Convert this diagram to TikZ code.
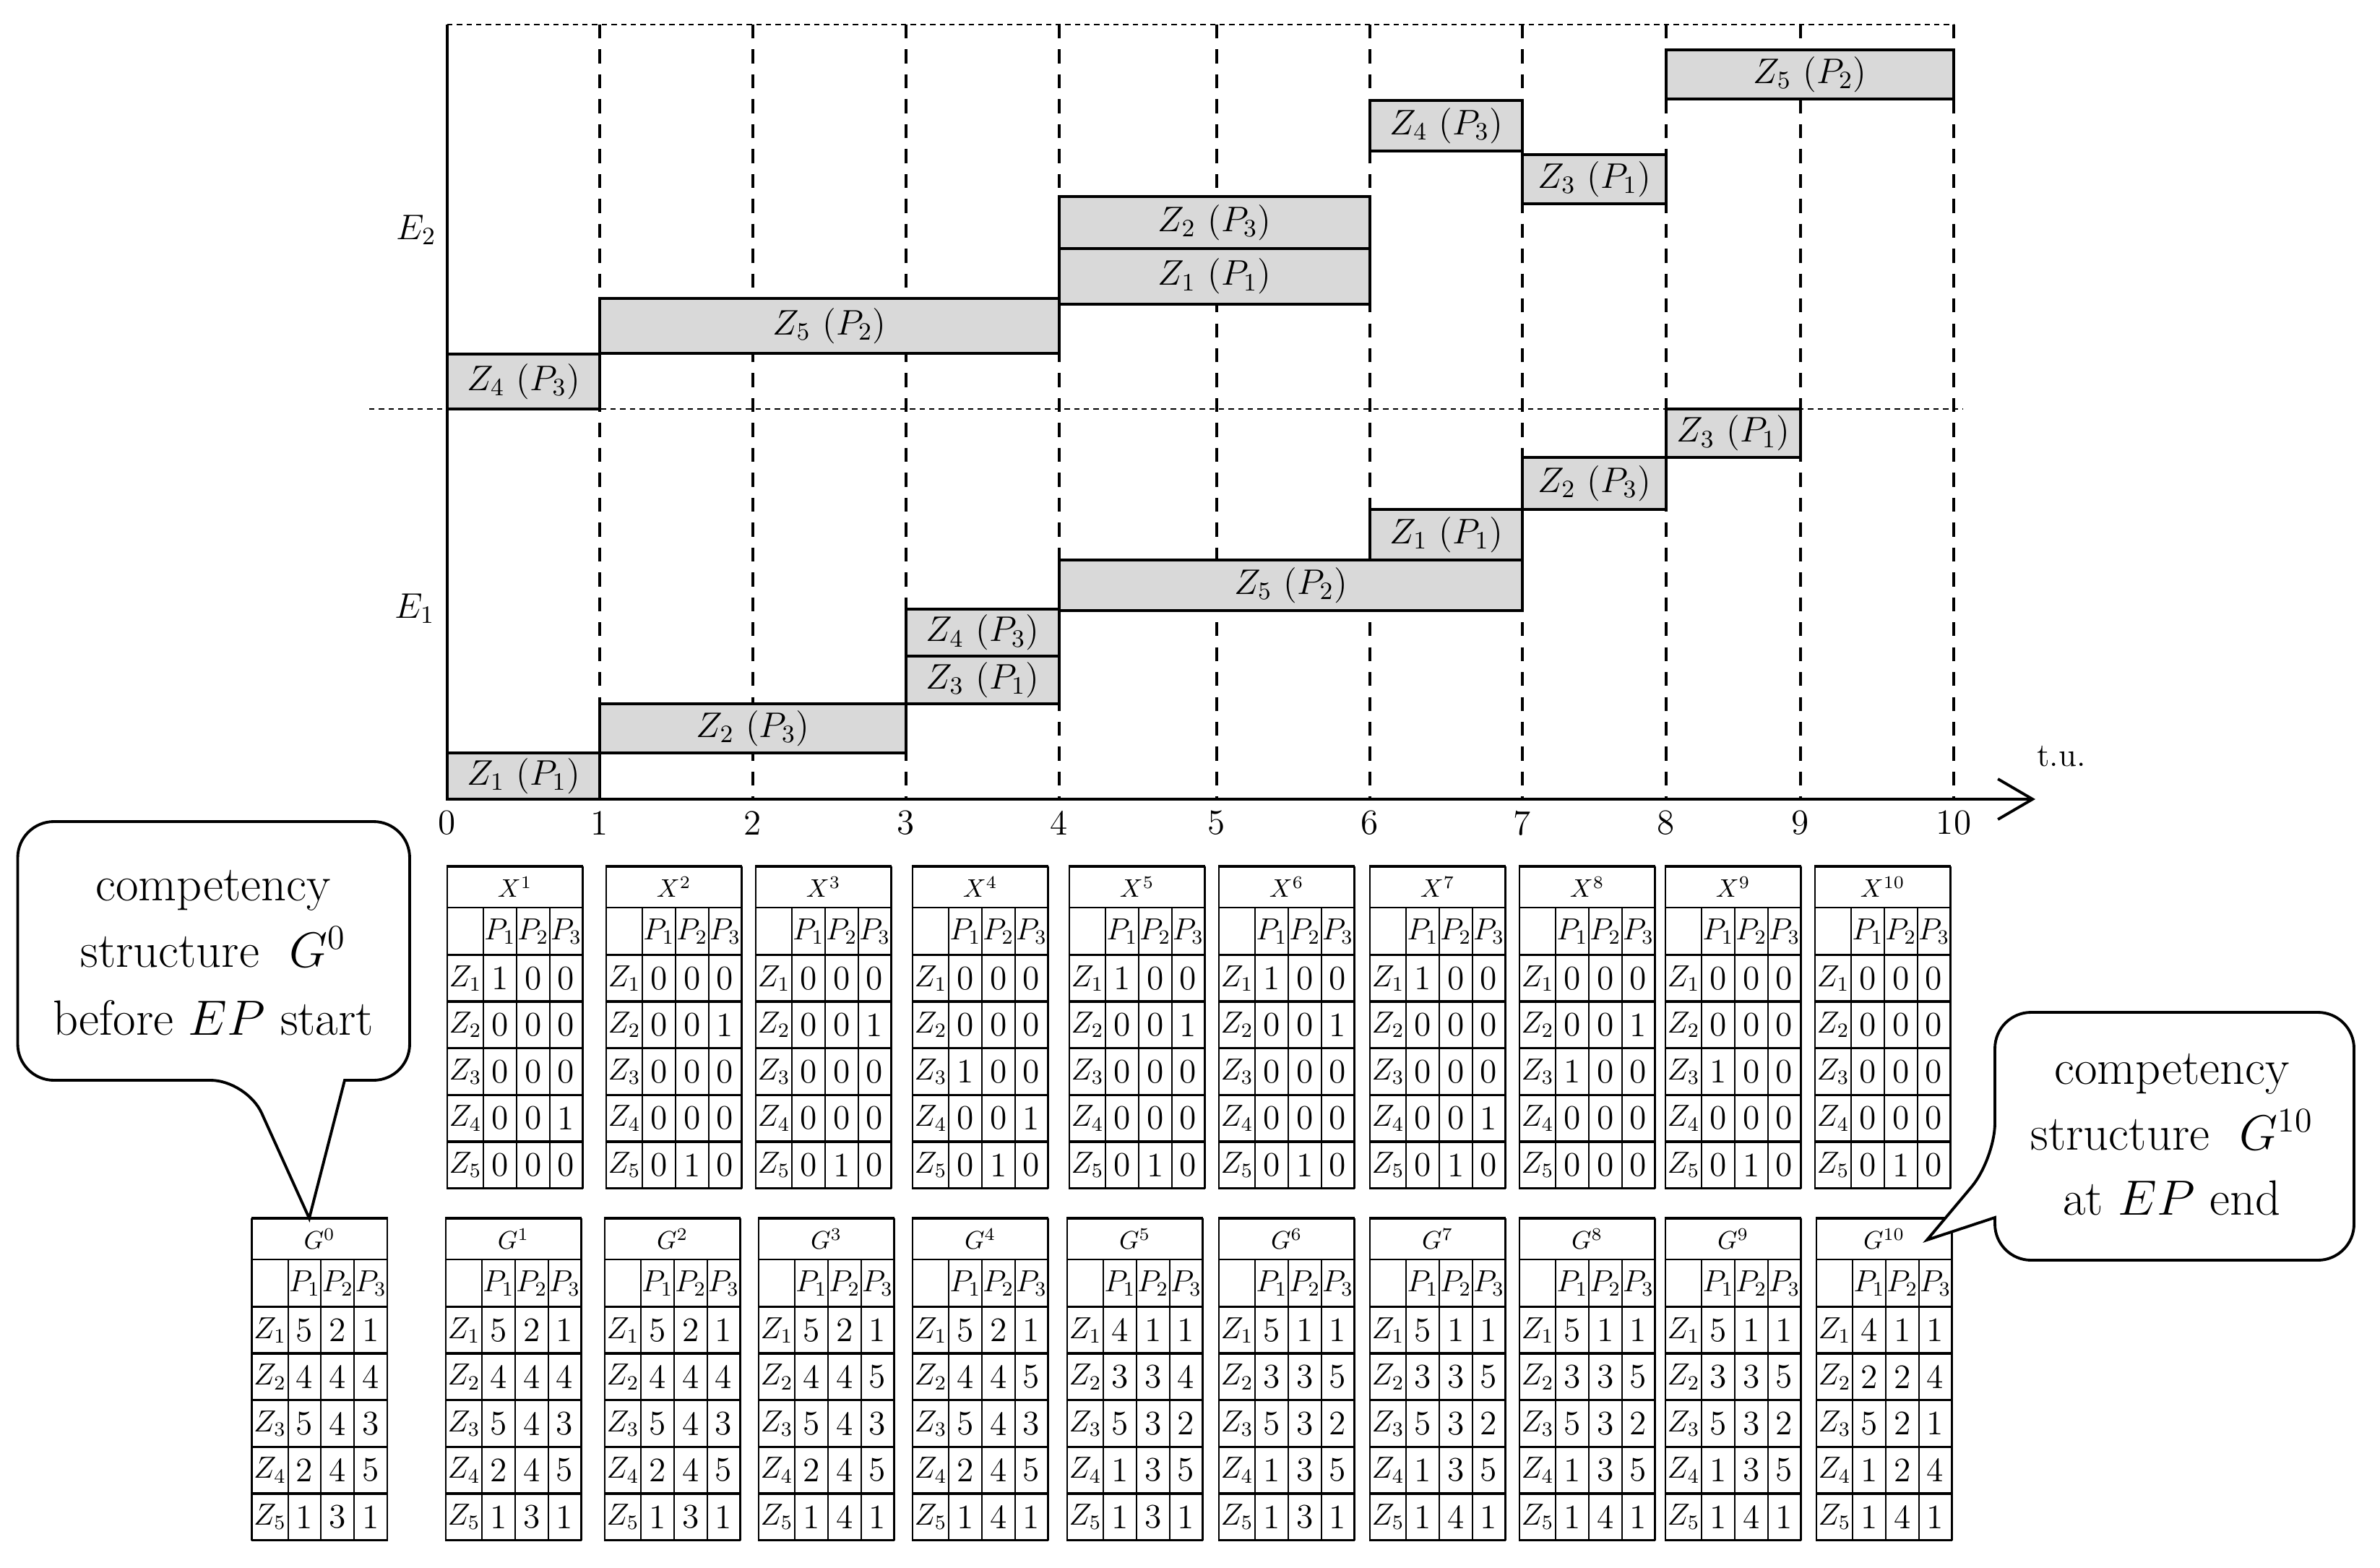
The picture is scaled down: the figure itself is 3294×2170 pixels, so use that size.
\RequirePackage{fix-cm}
\documentclass[tikz,border=0pt]{standalone}
\usetikzlibrary{arrows.meta,calc}
\definecolor{barfill}{RGB}{217,217,217}
\tikzset{
  bar/.style={draw=black,line width=1.1pt,fill=barfill},
  barlabel/.style={font=\fontsize{14}{16}\selectfont,inner sep=0pt},
  gridline/.style={line width=0.9pt,dash pattern=on 5.5pt off 4.3pt},
  dotline/.style={line width=0.5pt,dash pattern=on 2.1pt off 1.7pt},
  axisline/.style={line width=1pt},
  ticklabel/.style={font=\fontsize{14}{16}\selectfont,inner sep=0pt},
  tthick/.style={line width=1pt},
  tthin/.style={line width=0.6pt},
  ttitle/.style={font=\fontsize{10}{12}\selectfont,inner sep=0pt},
  thead/.style={font=\fontsize{12}{14}\selectfont,inner sep=0pt},
  tzlab/.style={font=\fontsize{12}{14}\selectfont,inner sep=0pt},
  tval/.style={font=\fontsize{13.5}{15}\selectfont,inner sep=0pt},
  callout/.style={line width=1.1pt,fill=white,line join=miter},
  callouttext/.style={font=\fontsize{19.5}{24}\selectfont,inner sep=0pt,anchor=base},
}
% bar: name, x0, x1, ytop, ybottom, label
\newcommand{\gbar}[6]{%
  \draw[bar] (#2,#4) rectangle (#3,#5);
  \node[barlabel] (#1) at ({(#2+#3)/2},{(#4+#5)/2}) {#6};}
% table: name, left, top, title, rows
\newcommand{\mtab}[5]{%
  \begin{scope}[shift={(#2,#3)}]
    \coordinate (#1-nw) at (0,0);
    \coordinate (#1-se) at (187.4,445.5);
    \draw[tthin] (0,57) -- (187.4,57);
    \foreach \yy in {122.5,187.1,251.7,316.3,380.9}
      \draw[tthick] (0,\yy) -- (187.4,\yy);
    \foreach \xx in {50,95.8,141.6}
      \draw[tthin] (\xx,57) -- (\xx,445.5);
    \draw[line width=0.75pt] (0,0) -- (0,445.5) (187.4,0) -- (187.4,445.5);
    \draw[tthick] (-1,0) -- (188.4,0) (-1,445.5) -- (188.4,445.5);
    \node[ttitle] (#1-t) at (93.7,28.5) {$#4$};
    \node[thead] (#1-p1) at (72.9,89.75) {$P_1$};
    \node[thead] (#1-p2) at (118.7,89.75) {$P_2$};
    \node[thead] (#1-p3) at (164.5,89.75) {$P_3$};
    \foreach \a/\b/\c [count=\i] in {#5} {
      \node[tzlab] (#1-z\i) at (25,{122.5+64.6*(\i-0.5)}) {$Z_{\i}$};
      \node[tval] (#1-a\i) at (72.9,{122.5+64.6*(\i-0.5)}) {\a};
      \node[tval] (#1-b\i) at (118.7,{122.5+64.6*(\i-0.5)}) {\b};
      \node[tval] (#1-c\i) at (164.5,{122.5+64.6*(\i-0.5)}) {\c};
    }
  \end{scope}}
\begin{document}
\begin{tikzpicture}[x=0.01cm,y=-0.01cm]
\path[use as bounding box] (0,0) rectangle (3294,2170);

% grid
\foreach \t in {830,1042,1254,1466,1684,1896,2107,2306,2492,2704}
  \draw[gridline] (\t,34) -- (\t,1106);
\draw[dotline] (619,34) -- (2704,34);
\draw[dotline] (511,566) -- (2716,566);

% E1 bars
\gbar{a1}{619}{830}{1042}{1106}{$Z_1\ (P_1)$}
\gbar{a2}{830}{1254}{974}{1042}{$Z_2\ (P_3)$}
\gbar{a3}{1254}{1466}{908}{974}{$Z_3\ (P_1)$}
\gbar{a4}{1254}{1466}{843}{908}{$Z_4\ (P_3)$}
\gbar{a5}{1466}{2107}{775}{845}{$Z_5\ (P_2)$}
\gbar{a6}{1896}{2107}{705}{775}{$Z_1\ (P_1)$}
\gbar{a7}{2107}{2306}{633}{705}{$Z_2\ (P_3)$}
\gbar{a8}{2306}{2492}{566}{633}{$Z_3\ (P_1)$}
% E2 bars
\gbar{b1}{619}{830}{490}{566}{$Z_4\ (P_3)$}
\gbar{b2}{830}{1466}{413}{489}{$Z_5\ (P_2)$}
\gbar{b3}{1466}{1896}{344}{421}{$Z_1\ (P_1)$}
\gbar{b4}{1466}{1896}{272}{344}{$Z_2\ (P_3)$}
\gbar{b5}{1896}{2107}{139}{209}{$Z_4\ (P_3)$}
\gbar{b6}{2107}{2306}{214}{282}{$Z_3\ (P_1)$}
\gbar{b7}{2306}{2704}{69}{137}{$Z_5\ (P_2)$}

% axes
\coordinate (origin) at (619,1106);
\coordinate (ytop) at (619,34);
\coordinate (xend) at (2817,1106);
\draw[axisline] (ytop) -- (origin);
\draw[axisline,-{Straight Barb[length=0.48cm,width=0.56cm,line width=1.1pt]}] (origin) -- (xend);
\foreach \t/\l in {619/0,830/1,1042/2,1254/3,1466/4,1684/5,1896/6,2107/7,2306/8,2492/9,2704/10}
  \node[ticklabel] (tick\l) at (\t,1139) {\l};
\node[ticklabel,font=\fontsize{13}{15}\selectfont] (tu) at (2853,1047) {t.u.};
\node[barlabel] (E2) at (576,318) {$E_2$};
\node[barlabel] (E1) at (574,842) {$E_1$};

% X tables
\mtab{x1}{619}{1199}{X^{1}}{1/0/0,0/0/0,0/0/0,0/0/1,0/0/0}
\mtab{x2}{839}{1199}{X^{2}}{0/0/0,0/0/1,0/0/0,0/0/0,0/1/0}
\mtab{x3}{1046}{1199}{X^{3}}{0/0/0,0/0/1,0/0/0,0/0/0,0/1/0}
\mtab{x4}{1263}{1199}{X^{4}}{0/0/0,0/0/0,1/0/0,0/0/1,0/1/0}
\mtab{x5}{1480}{1199}{X^{5}}{1/0/0,0/0/1,0/0/0,0/0/0,0/1/0}
\mtab{x6}{1687}{1199}{X^{6}}{1/0/0,0/0/1,0/0/0,0/0/0,0/1/0}
\mtab{x7}{1896}{1199}{X^{7}}{1/0/0,0/0/0,0/0/0,0/0/1,0/1/0}
\mtab{x8}{2103}{1199}{X^{8}}{0/0/0,0/0/1,1/0/0,0/0/0,0/0/0}
\mtab{x9}{2305}{1199}{X^{9}}{0/0/0,0/0/0,1/0/0,0/0/0,0/1/0}
\mtab{x10}{2512}{1199}{X^{10}}{0/0/0,0/0/0,0/0/0,0/0/0,0/1/0}

% G tables
\mtab{g0}{348.6}{1686}{G^{0}}{5/2/1,4/4/4,5/4/3,2/4/5,1/3/1}
\mtab{g1}{617}{1686}{G^{1}}{5/2/1,4/4/4,5/4/3,2/4/5,1/3/1}
\mtab{g2}{837}{1686}{G^{2}}{5/2/1,4/4/4,5/4/3,2/4/5,1/3/1}
\mtab{g3}{1050}{1686}{G^{3}}{5/2/1,4/4/5,5/4/3,2/4/5,1/4/1}
\mtab{g4}{1263}{1686}{G^{4}}{5/2/1,4/4/5,5/4/3,2/4/5,1/4/1}
\mtab{g5}{1477}{1686}{G^{5}}{4/1/1,3/3/4,5/3/2,1/3/5,1/3/1}
\mtab{g6}{1687}{1686}{G^{6}}{5/1/1,3/3/5,5/3/2,1/3/5,1/3/1}
\mtab{g7}{1896}{1686}{G^{7}}{5/1/1,3/3/5,5/3/2,1/3/5,1/4/1}
\mtab{g8}{2103}{1686}{G^{8}}{5/1/1,3/3/5,5/3/2,1/3/5,1/4/1}
\mtab{g9}{2305}{1686}{G^{9}}{5/1/1,3/3/5,5/3/2,1/3/5,1/4/1}
\mtab{g10}{2514}{1686}{G^{10}}{4/1/1,2/2/4,5/2/1,1/2/4,1/4/1}

% callouts
\coordinate (tipL) at ($(g0-nw)+(79.4,0)$);
\coordinate (tipR) at ($(g10-nw)+(153,30)$);
\draw[callout,rounded corners=0.5cm] (477,1495) -- (567,1495) -- (567,1137) -- (24.5,1137) -- (24.5,1495) -- (341.6,1495) [sharp corners] -- (tipL) -- cycle;
\node[callouttext] (cl1) at (295,1246) {competency};
\node[callouttext] (cl2) at (295,1338) {structure~~$G^{0}$};
\node[callouttext] (cl3) at (295,1432) {before $EP$ start};

\draw[callout,rounded corners=0.5cm] (2761,1685) -- (2761,1744) -- (3258,1744) -- (3258,1401) -- (2761,1401) -- (2761,1604) [sharp corners] -- (tipR) -- cycle;
\node[callouttext] (cr1) at (3006,1500) {competency};
\node[callouttext] (cr2) at (3006,1591) {structure~~$G^{10}$};
\node[callouttext] (cr3) at (3006,1681) {at $EP$ end};
\end{tikzpicture}
\end{document}
